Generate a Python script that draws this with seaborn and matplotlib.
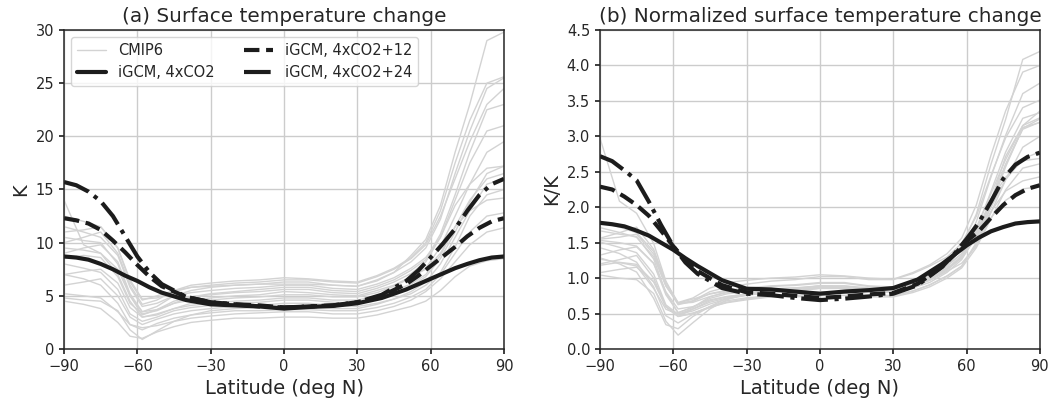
import numpy as np
import pandas as pd
import matplotlib
matplotlib.use("Agg")
import matplotlib.pyplot as plt
import seaborn as sns
from matplotlib.lines import Line2D

# ---------------- data ----------------
cmip_lat = [-90, -82, -75, -68, -63, -58, -52, -45, -38, -30, -20, -10, 0,
            10, 20, 30, 38, 45, 52, 58, 64, 70, 76, 83, 90]

# surface temperature change (K) for individual CMIP6 models
cmip_m01 = [4.5, 4.2, 3.8, 2.5, 1.2, 1.0, 1.6, 2.1, 2.5, 2.7, 2.9, 2.9, 3.0, 3.0, 2.9, 2.9, 3.2, 3.6, 4.0, 4.5, 5.5, 6.8, 7.8, 8.3, 8.5]
cmip_m02 = [5.2, 5.0, 4.8, 3.5, 2.3, 2.0, 2.2, 2.6, 2.9, 3.1, 3.3, 3.4, 3.5, 3.5, 3.3, 3.3, 3.6, 4.0, 4.6, 5.4, 6.6, 8.2, 9.8, 11.0, 11.4]
cmip_m03 = [7.0, 6.6, 6.0, 4.3, 2.3, 1.8, 2.4, 2.9, 3.2, 3.4, 3.6, 3.6, 3.7, 3.7, 3.6, 3.6, 3.9, 4.3, 4.9, 5.6, 7.0, 9.0, 11.0, 12.5, 12.8]
cmip_m04 = [4.8, 4.6, 4.5, 3.6, 1.8, 0.9, 1.7, 2.6, 3.2, 3.6, 3.8, 3.9, 4.1, 4.0, 3.8, 3.8, 4.2, 4.7, 5.2, 6.0, 7.2, 9.6, 12.5, 14.5, 15.0]
cmip_m05 = [6.0, 6.3, 6.6, 5.0, 3.0, 2.3, 2.8, 3.3, 3.6, 3.8, 4.0, 4.1, 4.3, 4.3, 4.1, 4.0, 4.3, 4.7, 5.4, 6.3, 8.0, 10.5, 13.0, 15.5, 16.0]
cmip_m06 = [8.0, 7.6, 7.2, 5.6, 3.3, 2.6, 3.0, 3.6, 3.9, 4.1, 4.3, 4.4, 4.6, 4.6, 4.4, 4.3, 4.7, 5.2, 5.9, 6.8, 8.5, 11.0, 13.8, 16.5, 17.2]
cmip_m07 = [14.0, 9.8, 9.0, 7.0, 4.5, 3.0, 3.2, 3.8, 4.1, 4.3, 4.5, 4.6, 4.8, 4.8, 4.6, 4.6, 5.0, 5.5, 6.1, 7.0, 8.8, 11.5, 14.0, 16.0, 16.5]
cmip_m08 = [7.0, 7.3, 7.5, 6.2, 3.9, 3.0, 3.3, 3.8, 4.3, 4.6, 4.8, 4.9, 5.1, 5.1, 4.9, 4.9, 5.3, 5.9, 6.7, 7.6, 9.6, 12.5, 15.5, 18.5, 19.5]
cmip_m09 = [9.5, 9.3, 9.0, 7.5, 5.0, 3.5, 3.7, 4.3, 4.6, 4.8, 5.0, 5.1, 5.4, 5.3, 5.1, 5.0, 5.5, 6.0, 6.8, 7.5, 9.0, 11.5, 13.0, 14.0, 14.2]
cmip_m10 = [10.5, 10.2, 10.0, 8.0, 5.0, 3.2, 3.7, 4.5, 4.9, 5.1, 5.3, 5.4, 5.6, 5.6, 5.3, 5.2, 5.7, 6.3, 7.1, 8.2, 10.5, 14.0, 17.5, 20.5, 21.0]
cmip_m11 = [8.5, 8.8, 8.6, 6.8, 4.3, 3.3, 3.6, 4.3, 4.9, 5.2, 5.4, 5.6, 5.8, 5.8, 5.5, 5.4, 5.9, 6.5, 7.4, 8.4, 10.8, 14.5, 18.5, 22.5, 23.0]
cmip_m12 = [11.5, 11.0, 10.5, 8.8, 5.8, 4.0, 4.3, 5.0, 5.3, 5.5, 5.7, 5.8, 6.0, 6.0, 5.7, 5.6, 6.1, 6.7, 7.6, 8.6, 10.5, 13.5, 15.5, 17.0, 17.2]
cmip_m13 = [9.0, 9.5, 9.8, 8.2, 5.2, 3.5, 4.0, 5.0, 5.5, 5.8, 6.0, 6.1, 6.3, 6.3, 6.0, 5.9, 6.5, 7.2, 8.2, 9.5, 12.2, 16.5, 20.5, 24.5, 25.5]
cmip_m14 = [12.5, 12.0, 11.5, 9.5, 6.5, 4.7, 4.8, 5.4, 5.8, 6.0, 6.2, 6.3, 6.5, 6.5, 6.3, 6.2, 6.8, 7.5, 8.5, 9.8, 12.5, 16.0, 19.5, 23.0, 24.5]
cmip_m15 = [10.0, 10.5, 11.0, 9.0, 6.0, 4.2, 4.6, 5.5, 6.0, 6.2, 6.4, 6.5, 6.7, 6.6, 6.4, 6.3, 6.9, 7.6, 8.6, 10.0, 13.0, 17.5, 21.5, 25.0, 25.6]
cmip_m16 = [11.0, 11.2, 11.5, 9.5, 6.3, 4.6, 5.0, 5.5, 5.8, 5.9, 6.0, 6.1, 6.1, 6.1, 6.0, 5.9, 6.4, 7.2, 8.8, 10.3, 13.5, 18.5, 23.0, 29.0, 29.8]
cmip_models = [cmip_m01, cmip_m02, cmip_m03, cmip_m04, cmip_m05, cmip_m06, cmip_m07, cmip_m08,
               cmip_m09, cmip_m10, cmip_m11, cmip_m12, cmip_m13, cmip_m14, cmip_m15, cmip_m16]
# global-mean warming of each model (K), used for normalization in panel (b)
cmip_gmean = [3.5, 4.1, 4.9, 4.6, 5.0, 5.3, 4.7, 6.5, 6.2, 6.3, 7.2, 6.4, 6.8, 7.3, 6.4, 7.1]

igcm_lat = [-90, -85, -80, -75, -70, -65, -60, -55, -50, -40, -30, -20, -10, 0,
            10, 20, 30, 40, 50, 55, 60, 65, 70, 75, 80, 85, 90]
igcm_4x_a = [8.7, 8.6, 8.4, 8.0, 7.5, 6.9, 6.4, 5.8, 5.3, 4.6, 4.2, 4.1, 4.0, 3.8,
             3.95, 4.05, 4.3, 4.8, 5.6, 6.1, 6.6, 7.1, 7.6, 8.0, 8.35, 8.6, 8.7]
igcm_12_a = [12.3, 12.1, 11.8, 11.2, 10.2, 9.1, 7.9, 6.8, 5.9, 4.9, 4.4, 4.2, 4.1, 3.9,
             4.0, 4.1, 4.4, 5.0, 6.1, 6.9, 7.8, 8.7, 9.6, 10.6, 11.4, 12.0, 12.3]
igcm_24_a = [15.7, 15.4, 14.8, 13.9, 12.5, 10.6, 8.7, 7.2, 6.1, 4.9, 4.4, 4.2, 4.0, 3.9,
             4.0, 4.1, 4.4, 5.1, 6.4, 7.4, 8.6, 9.9, 11.3, 13.0, 14.5, 15.5, 16.0]
igcm_4x_b = [1.78, 1.76, 1.73, 1.67, 1.60, 1.50, 1.40, 1.28, 1.17, 0.97, 0.85, 0.84, 0.81, 0.78,
             0.81, 0.83, 0.86, 0.98, 1.20, 1.33, 1.46, 1.57, 1.66, 1.72, 1.77, 1.79, 1.80]
igcm_12_b = [2.29, 2.25, 2.15, 2.03, 1.88, 1.67, 1.45, 1.25, 1.10, 0.90, 0.80, 0.78, 0.75, 0.72,
             0.74, 0.77, 0.79, 0.92, 1.16, 1.33, 1.52, 1.66, 1.85, 2.03, 2.17, 2.26, 2.31]
igcm_24_b = [2.72, 2.65, 2.52, 2.38, 2.08, 1.75, 1.45, 1.22, 1.06, 0.86, 0.78, 0.76, 0.72, 0.69,
             0.71, 0.74, 0.78, 0.90, 1.16, 1.34, 1.55, 1.78, 2.08, 2.40, 2.60, 2.71, 2.77]

igcm_labels = ["iGCM, 4xCO2", "iGCM, 4xCO2+12", "iGCM, 4xCO2+24"]
igcm_styles = ["-", "--", "-."]
x_ticks = [-90, -60, -30, 0, 30, 60, 90]

# ---------------- style ----------------
sns.set_theme(style="whitegrid", rc={
    "axes.edgecolor": "#262626", "axes.linewidth": 1.1,
    "grid.color": "#cccccc", "grid.linewidth": 1.0,
    "xtick.bottom": True, "ytick.left": True,
    "xtick.major.size": 3.5, "ytick.major.size": 3.5,
    "xtick.color": "#262626", "ytick.color": "#262626",
    "xtick.labelsize": 10.5, "ytick.labelsize": 10.5,
})
plt.rcParams["font.family"] = ["DejaVu Sans"]

rows = []
for i, (vals, g) in enumerate(zip(cmip_models, cmip_gmean)):
    for la, v in zip(cmip_lat, vals):
        rows.append({"model": i, "lat": la, "dT": v, "dTn": v / g})
cmip_df = pd.DataFrame(rows)

igcm_a = [igcm_4x_a, igcm_12_a, igcm_24_a]
igcm_b = [igcm_4x_b, igcm_12_b, igcm_24_b]

fig, axes = plt.subplots(1, 2, figsize=(10.6, 4.03), dpi=100)
fig.subplots_adjust(left=0.0604, right=0.981, bottom=0.134, top=0.9256, wspace=0.218)

grey = "#d3d3d3"
black = "#1c1c1c"
for ax, ycol, series, ylim, yticks, ylabel, title in [
    (axes[0], "dT", igcm_a, (0, 30), np.arange(0, 31, 5), "K", "(a) Surface temperature change"),
    (axes[1], "dTn", igcm_b, (0, 4.5), np.arange(0, 4.51, 0.5), "K/K", "(b) Normalized surface temperature change"),
]:
    sns.lineplot(data=cmip_df, x="lat", y=ycol, units="model", estimator=None,
                 color=grey, lw=1.0, ax=ax, legend=False, sort=False)
    for vals, lab, ls in zip(series, igcm_labels, igcm_styles):
        sns.lineplot(x=igcm_lat, y=vals, color=black, lw=3, linestyle=ls, ax=ax,
                     label=lab, legend=False)
    ax.set_xlim(-90, 90)
    ax.set_ylim(*ylim)
    ax.set_xticks(x_ticks)
    ax.set_yticks(yticks)
    if ycol == "dTn":
        ax.set_yticklabels([f"{t:.1f}" for t in yticks])
    ax.set_xlabel("Latitude (deg N)", fontsize=14, color="#262626")
    ax.set_ylabel(ylabel, fontsize=14, color="#262626")
    ax.set_title(title, fontsize=14.4, color="#262626")
    for s in ax.spines.values():
        s.set_visible(True)
        s.set_color("#262626")

handles = [Line2D([], [], color=grey, lw=1.0)] + \
          [Line2D([], [], color=black, lw=3, linestyle=ls) for ls in igcm_styles]
labels = ["CMIP6"] + igcm_labels
axes[0].legend(handles, labels, ncol=2, loc="upper left", fontsize=10.5)

fig.savefig("out.png", dpi=100)
